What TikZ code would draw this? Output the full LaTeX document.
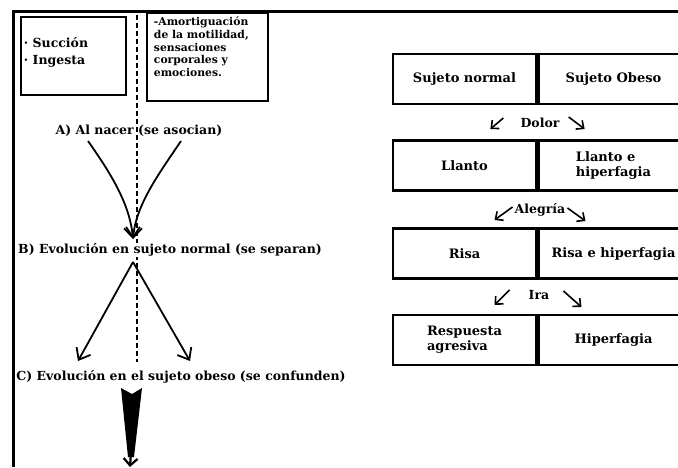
\documentclass[tikz,border=0pt]{standalone}
\usepackage{fontspec}
\setmainfont{DejaVu Serif}
\usetikzlibrary{arrows, arrows.meta}
\usetikzlibrary{calc}

\tikzset{
  caja/.style={draw, line width=2.5pt, inner sep=0pt},
  celda/.style={draw, line width=2.5pt, minimum width=143pt, minimum height=50pt, inner sep=0pt, align=left, font=\bfseries\fontsize{13}{15}\selectfont},
  etiq/.style={inner sep=1pt, font=\bfseries\fontsize{12.5}{14}\selectfont},
  flecha/.style={line width=1.8pt, -{Straight Barb[length=10pt,width=16pt]}},
  flechita/.style={line width=1.6pt, -{Straight Barb[length=6pt,width=11pt]}}
}

\begin{document}
\begin{tikzpicture}[x=1pt, y=-1pt]
      \useasboundingbox (0,0) rectangle (678,467);
      \draw[line width=3pt] (13,467) -- (13,11) -- (678,11);

      \node[caja, minimum width=105pt, minimum height=78pt] (succ) at (73.5,56) {};
      \node[anchor=west, align=left, inner sep=0pt, font=\bfseries\fontsize{12.5}{17}\selectfont] (succtxt) at ($(succ.west)+(4,-4)$) {· Succión\\· Ingesta};
      \node[caja, minimum width=121pt, minimum height=88pt] (amort) at (207.5,57) {};
      \node[anchor=north west, align=left, inner sep=0pt, font=\bfseries\fontsize{10.8}{12.8}\selectfont] (amorttxt) at ($(amort.north west)+(8,5)$) {-Amortiguación\\de la motilidad,\\sensaciones\\corporales y\\emociones.};

      \coordinate (dtop) at (137,15);
      \coordinate (dbot) at (137,362);
      \draw[line width=1.2pt, dash pattern=on 5pt off 3pt] (dtop) -- (dbot);

      \node[etiq] (nacer) at (139,131) {A) Al nacer (se asocian)};
      \node[etiq, fill=white] (normal) at (170,250) {B) Evolución en sujeto normal (se separan)};
      \node[etiq] (obeso) at (181,377) {C) Evolución en el sujeto obeso (se confunden)};

      \coordinate (izqA) at (88,141);
      \coordinate (derA) at (181,141);
      \coordinate (juntaA) at (133,239);
      \draw[flecha] (izqA) .. controls (112,175) and (130,205) .. (juntaA);
      \draw[flecha] (derA) .. controls (158,175) and (136,205) .. (juntaA);

      \coordinate (apice) at (133,262);
      \coordinate (izqC) at (78,361);
      \coordinate (derC) at (190,361);
      \draw[flecha] (apice) -- (izqC);
      \draw[flecha] (apice) -- (derC);

      \fill (121,388) -- (132,394) -- (142,388) -- (134,457) -- (128,457) -- cycle;
      \coordinate (cuna) at (131,452);
      \coordinate (fin) at (130,467);
      \draw[line width=2.2pt, -{Straight Barb[length=7pt,width=14pt]}] (cuna) -- (fin);

      \node[celda] (norm1) at (464.5,79) {Sujeto normal};
      \node[celda, anchor=west, minimum width=150pt] (obes1) at (norm1.east) {Sujeto Obeso};
      \node[celda] (norm2) at (464.5,165.5) {Llanto};
      \node[celda, anchor=west, minimum width=150pt] (obes2) at (norm2.east) {Llanto e\\hiperfagia};
      \node[celda] (norm3) at (464.5,253.5) {Risa};
      \node[celda, anchor=west, minimum width=150pt] (obes3) at (norm3.east) {Risa e hiperfagia};
      \node[celda] (norm4) at (464.5,340) {Respuesta\\agresiva};
      \node[celda, anchor=west, minimum width=150pt] (obes4) at (norm4.east) {Hiperfagia};

      \node[etiq] (dolor) at (540,123) {Dolor};
      \node[etiq] (alegria) at (540,210) {Alegría};
      \node[etiq] (ira) at (539,295) {Ira};

      \draw[flechita] ($(dolor.west)+(-16,-5)$) -- ++(-13,11);
      \draw[flechita] ($(dolor.east)+(8,-6)$) -- ++(16,12);
      \draw[flechita] ($(alegria.west)+(-1,-3)$) -- ++(-18,13);
      \draw[flechita] ($(alegria.east)+(1,-2)$) -- ++(18,13);
      \draw[flechita] ($(ira.west)+(-18,-5)$) -- ++(-15,15);
      \draw[flechita] ($(ira.east)+(13,-4)$) -- ++(18,16);
\end{tikzpicture}
\end{document}
